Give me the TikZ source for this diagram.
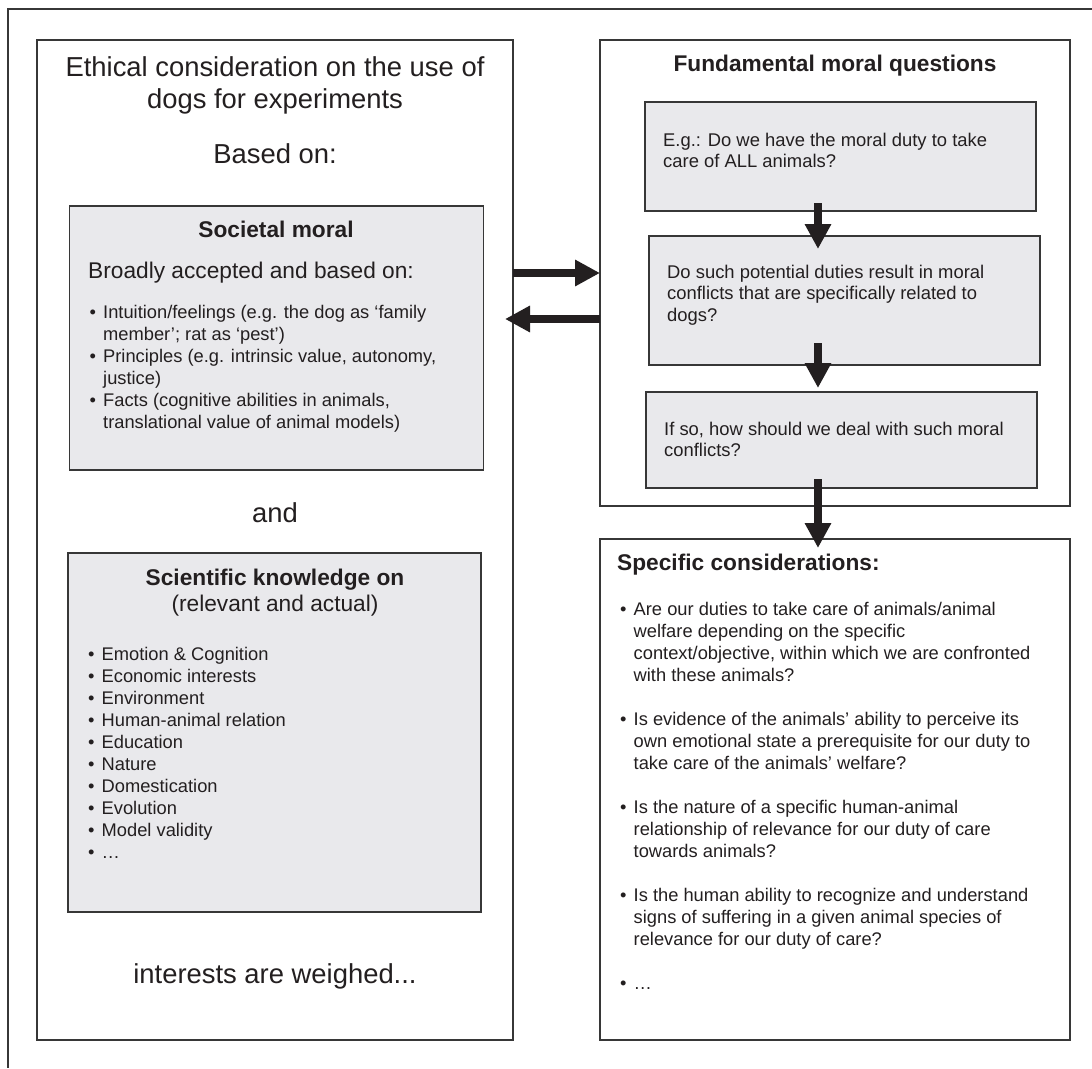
\documentclass[tikz,border=0pt]{standalone}
\usepackage{fontspec}
\setmainfont{Liberation Sans}
\usetikzlibrary{arrows.meta,calc}
\definecolor{boxgray}{RGB}{233,233,236}
\definecolor{linegray}{RGB}{55,55,55}
\definecolor{ink}{RGB}{35,31,32}
\newcommand{\bul}{\makebox[13.5pt][l]{•}}
\newcommand{\ind}{\hspace*{13.5pt}}
\tikzset{
  panel/.style={draw=linegray, line width=1.6pt, outer sep=0pt, inner sep=0pt, anchor=north west},
  graypanel/.style={panel, fill=boxgray},
  big/.style={font=\fontsize{27.4}{32}\selectfont, inner sep=0pt, text=ink, anchor=base},
  head/.style={font=\fontsize{22.7}{27}\selectfont\bfseries, inner sep=0pt, text=ink, anchor=base},
  sub/.style={font=\fontsize{22.7}{27}\selectfont, inner sep=0pt, text=ink, anchor=base},
  body/.style={font=\fontsize{18.3}{22}\selectfont, inner sep=0pt, text=ink, anchor=base west},
  qtext/.style={font=\fontsize{18.4}{21.7}\selectfont, inner sep=0pt, text=ink, anchor=base west},
  fatarrow/.style={draw=ink, line width=8pt, -{Triangle[length=25pt,width=25pt]}},
}
\begin{document}
\begin{tikzpicture}[x=1pt, y=-1pt]
\useasboundingbox[fill=white] (0,0) rectangle (1092,1068);
\draw[linegray, line width=1.2pt] (1092,9) -- (8,9) -- (8,1068);

% left column
\node[panel, minimum width=476pt, minimum height=1000pt] (ethics) at (37,40) {};
\node[big] (ethtitle) at (275,76) {\begin{tabular}[t]{@{}c@{}}Ethical consideration on the use of\\dogs for experiments\end{tabular}};
\node[big] (basedon) at (275,163) {Based on:};

\node[graypanel, minimum width=414pt, minimum height=264pt] (societal) at (69.5,206) {};
\node[head] (socttl) at (276,237) {Societal moral};
\node[sub, anchor=base west] (broadly) at (88,278) {Broadly accepted and based on:};
\node[body] (socitems) at (89.5,318) {\begin{tabular}[t]{@{}l@{}}
\bul Intuition/feelings (e.g. the dog as ‘family\\
\ind member’; rat as ‘pest’)\\
\bul Principles (e.g. intrinsic value, autonomy,\\
\ind justice)\\
\bul Facts (cognitive abilities in animals,\\
\ind translational value of animal models)
\end{tabular}};

\node[big] (and) at (275,522) {and};

\node[graypanel, minimum width=413pt, minimum height=359pt] (science) at (68,553) {};
\node[head] (scittl) at (275,585) {Scientific knowledge on};
\node[sub] (scisub) at (275,611) {(relevant and actual)};
\node[body] (sciitems) at (88,660) {\begin{tabular}[t]{@{}l@{}}
\bul Emotion \& Cognition\\
\bul Economic interests\\
\bul Environment\\
\bul Human-animal relation\\
\bul Education\\
\bul Nature\\
\bul Domestication\\
\bul Evolution\\
\bul Model validity\\
\bul …
\end{tabular}};

\node[big] (weighed) at (275,983) {interests are weighed...};

% right column
\node[panel, minimum width=470pt, minimum height=466pt] (fund) at (600,40) {};
\node[head] (fundttl) at (835,71) {Fundamental moral questions};

\node[graypanel, minimum width=391pt, minimum height=109pt] (q1) at (645,102) {};
\node[qtext] (q1txt) at (663,146) {\begin{tabular}[t]{@{}l@{}}E.g.: Do we have the moral duty to take\\care of ALL animals?\end{tabular}};

\node[graypanel, minimum width=391pt, minimum height=129pt] (q2) at (649,236) {};
\node[qtext] (q2txt) at (667,278) {\begin{tabular}[t]{@{}l@{}}Do such potential duties result in moral\\conflicts that are specifically related to\\dogs?\end{tabular}};

\node[graypanel, minimum width=391pt, minimum height=96pt] (q3) at (646,392) {};
\node[qtext] (q3txt) at (664,435) {\begin{tabular}[t]{@{}l@{}}If so, how should we deal with such moral\\conflicts?\end{tabular}};

\node[panel, minimum width=470pt, minimum height=501pt] (spec) at (600,539) {};
\node[head, anchor=base west] (specttl) at (617,570.5) {Specific considerations:};
\node[body] (specitems) at (620,615) {\begin{tabular}[t]{@{}l@{}}
\bul Are our duties to take care of animals/animal\\
\ind welfare depending on the specific\\
\ind context/objective, within which we are confronted\\
\ind with these animals?\\
\\
\bul Is evidence of the animals’ ability to perceive its\\
\ind own emotional state a prerequisite for our duty to\\
\ind take care of the animals’ welfare?\\
\\
\bul Is the nature of a specific human-animal\\
\ind relationship of relevance for our duty of care\\
\ind towards animals?\\
\\
\bul Is the human ability to recognize and understand\\
\ind signs of suffering in a given animal species of\\
\ind relevance for our duty of care?\\
\\
\bul …
\end{tabular}};

% arrows
\coordinate (axis) at (818,0);
\draw[fatarrow] ($(axis |- q1.south)+(0,-8)$) -- ($(axis |- q2.north)+(0,13)$);
\draw[fatarrow] ($(axis |- q2.south)+(0,-22)$) -- ($(axis |- q3.north)+(0,-4)$);
\draw[fatarrow] ($(axis |- q3.south)+(0,-9)$) -- ($(axis |- spec.north)+(0,9)$);
\draw[fatarrow] (ethics.east |- fund.west) -- (fund.west);
\draw[fatarrow] ($(fund.west)+(0,46)$) -- ($(ethics.east |- fund.west)+(-8,46)$);
\end{tikzpicture}
\end{document}
